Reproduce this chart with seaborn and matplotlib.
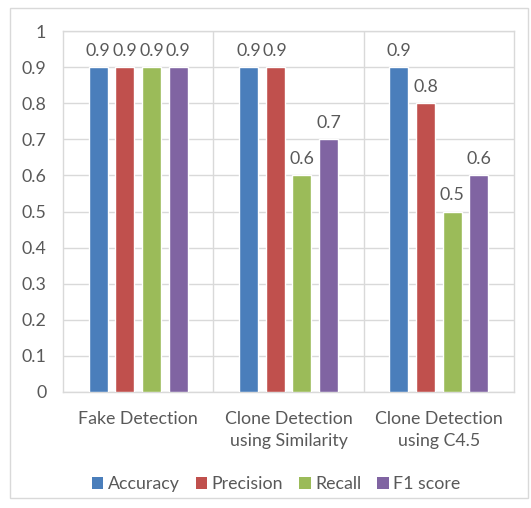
import matplotlib
matplotlib.use("Agg")
import matplotlib.pyplot as plt
import seaborn as sns
import pandas as pd
from matplotlib.patches import Rectangle, Patch

categories = ["Fake Detection", "Clone Detection\nusing Similarity", "Clone Detection\nusing C4.5"]
metrics = ["Accuracy", "Precision", "Recall", "F1 score"]
accuracy = [0.9, 0.9, 0.9]
precision = [0.9, 0.9, 0.8]
recall = [0.9, 0.6, 0.5]
f1_score = [0.9, 0.7, 0.6]
colors = ["#4A7EBB", "#C0504D", "#9BBB59", "#8064A2"]
y_ticks = [0, 0.1, 0.2, 0.3, 0.4, 0.5, 0.6, 0.7, 0.8, 0.9, 1]

rows = []
for metric, vals in zip(metrics, [accuracy, precision, recall, f1_score]):
    for cat, v in zip(categories, vals):
        rows.append({"category": cat, "metric": metric, "value": v})
df = pd.DataFrame(rows)

sns.set_theme(style="white")
plt.rcParams["font.family"] = ["Lato", "DejaVu Sans"]
text_color = "#595959"
grid_color = "#D9D9D9"
fs = 12.8

fig = plt.figure(figsize=(5.31, 5.08), dpi=100)
ax = fig.add_axes([63 / 531, 1 - 392 / 508, (514 - 63) / 531, (392 - 31) / 508])

sns.barplot(data=df, x="category", y="value", hue="metric", order=categories,
            hue_order=metrics, palette=colors, width=0.71, gap=0.28,
            saturation=1, legend=False, ax=ax, zorder=3)

for container in ax.containers:
    labels = [f"{b.get_height():g}" for b in container]
    ax.bar_label(container, labels=labels, padding=6, fontsize=fs, color=text_color)

ax.set_ylim(0, 1)
ax.set_xlim(-0.5, 2.5)
ax.set_yticks(y_ticks)
ax.set_yticklabels([f"{t:g}" for t in y_ticks])
ax.yaxis.grid(True, color=grid_color, linewidth=1, zorder=0)
for xv in [0.5, 1.5]:
    ax.axvline(xv, color=grid_color, linewidth=1, zorder=0)
for s in ax.spines.values():
    s.set_color(grid_color)
    s.set_linewidth(1)
ax.set_xlabel("")
ax.set_ylabel("")
ax.tick_params(axis="both", length=0, labelsize=fs, colors=text_color)
ax.tick_params(axis="y", pad=12)
ax.tick_params(axis="x", pad=14)
for lbl in ax.get_xticklabels():
    lbl.set_linespacing(1.45)

handles = [Patch(facecolor=c, edgecolor="none") for c in colors]
fig.legend(handles, metrics, loc="center", bbox_to_anchor=(0.52, 1 - 484 / 508),
           ncol=4, frameon=False, fontsize=fs, handlelength=0.65, handleheight=0.65,
           handletextpad=0.25, columnspacing=0.9, labelcolor=text_color)

fig.patches.append(Rectangle((10 / 531, 1 - 498 / 508), 518 / 531, 490 / 508,
                             transform=fig.transFigure, fill=False,
                             edgecolor="#D9D9D9", linewidth=1))

fig.savefig("out.png", dpi=100)
